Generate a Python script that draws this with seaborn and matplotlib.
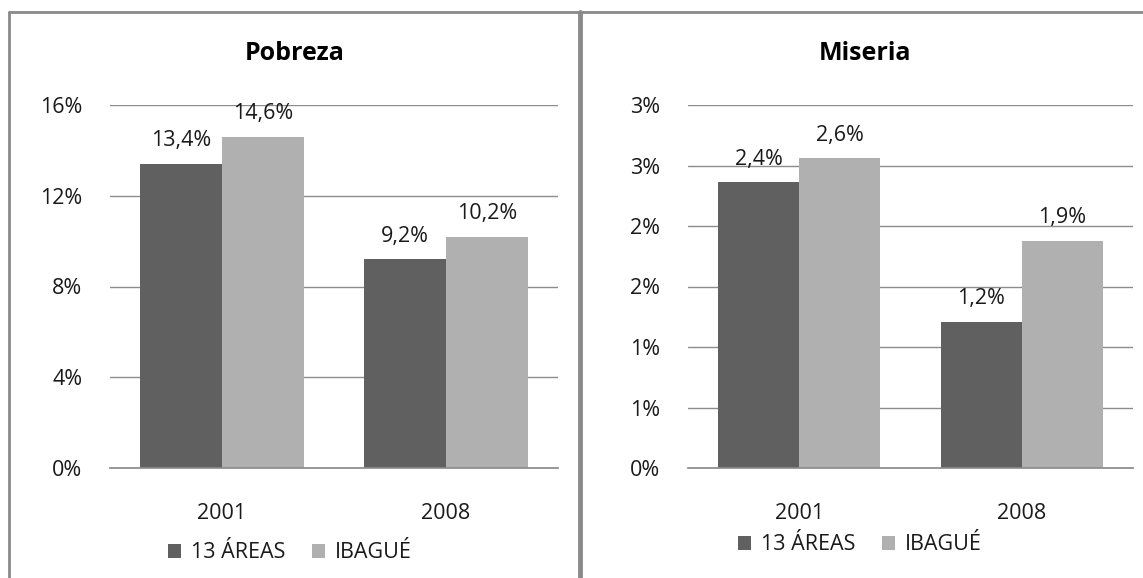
import matplotlib
matplotlib.use("Agg")
import matplotlib.pyplot as plt
import seaborn as sns
import pandas as pd
from matplotlib.lines import Line2D

years = ["2001", "2008"]
series = ["13 ÁREAS", "IBAGUÉ"]
pobreza_13 = [13.4, 9.2]
pobreza_ib = [14.6, 10.2]
miseria_13 = [2.36, 1.21]
miseria_ib = [2.56, 1.88]
pob_ticks = [0, 4, 8, 12, 16]
pob_ticklabels = ["0%", "4%", "8%", "12%", "16%"]
mis_ticks = [0, 0.5, 1, 1.5, 2, 2.5, 3]
mis_ticklabels = ["0%", "1%", "1%", "2%", "2%", "3%", "3%"]
titles = ["Pobreza", "Miseria"]
colors = ["#606060", "#B0B0B0"]

sns.set_theme(style="white")
plt.rcParams["font.family"] = ["Open Sans", "DejaVu Sans"]
text_color = "#1a1a1a"
FS = 15.5

fig = plt.figure(figsize=(11.43, 5.78), dpi=100)

def make_df(a, b):
    return pd.DataFrame({
        "year": years * 2,
        "serie": [series[0]] * len(years) + [series[1]] * len(years),
        "value": list(a) + list(b),
    })

panels = [
    (make_df(pobreza_13, pobreza_ib), pob_ticks, pob_ticklabels, [110/1143, 1-468/578, 448/1143, 363/578],
     (290/1143, 1-553/578), 295/1143),
    (make_df(miseria_13, miseria_ib), mis_ticks, mis_ticklabels, [688/1143, 1-468/578, 445/1143, 363/578],
     (860/1143, 1-545/578), 865/1143),
]

for (df, ticks, ticklabels, rect, legpos, tx), title in zip(panels, titles):
    ax = fig.add_axes(rect)
    sns.barplot(data=df, x="year", y="value", hue="serie", order=years, hue_order=series,
                palette=colors, width=0.73, gap=0, dodge=True, ax=ax, saturation=1,
                edgecolor="none", linewidth=0, legend=True)
    ax.set_ylim(ticks[0], ticks[-1])
    ax.set_yticks(ticks)
    ax.set_yticklabels(ticklabels)
    ax.set_xlim(-0.5, len(years) - 0.5)
    ax.yaxis.grid(True, color="#8c8c8c", linewidth=1)
    ax.set_axisbelow(True)
    for s in ["left", "right", "top"]:
        ax.spines[s].set_visible(False)
    ax.spines["bottom"].set_color("#8c8c8c")
    ax.tick_params(axis="y", length=0, pad=20, labelsize=FS, labelcolor=text_color)
    ax.tick_params(axis="x", length=0, pad=25, labelsize=FS, labelcolor=text_color)
    ax.set_xlabel("")
    ax.set_ylabel("")
    for cont in ax.containers:
        labels = [("%.1f%%" % v).replace(".", ",") for v in cont.datavalues]
        ax.bar_label(cont, labels=labels, padding=9, fontsize=FS, color=text_color)
    fig.text(tx, 1 - 53/578, title, fontsize=18, fontweight="bold", color="black",
             ha="center", va="center")
    handles, labs = ax.get_legend_handles_labels()
    ax.legend(handles, labs, loc="center", bbox_to_anchor=legpos, bbox_transform=fig.transFigure,
              ncol=2, frameon=False, fontsize=FS, handlelength=0.6, handleheight=0.6,
              handletextpad=0.5, columnspacing=1.2, labelcolor=text_color)

border = "#8a8a8a"
fig.add_artist(Line2D([9/1143, 1.0], [1-12/578, 1-12/578], color=border, linewidth=2, transform=fig.transFigure))
fig.add_artist(Line2D([9/1143, 9/1143], [0, 1-12/578], color=border, linewidth=2, transform=fig.transFigure))
fig.add_artist(Line2D([580/1143, 580/1143], [0, 1-12/578], color=border, linewidth=3.5, transform=fig.transFigure))

fig.savefig("out.png", dpi=100, facecolor="white")
